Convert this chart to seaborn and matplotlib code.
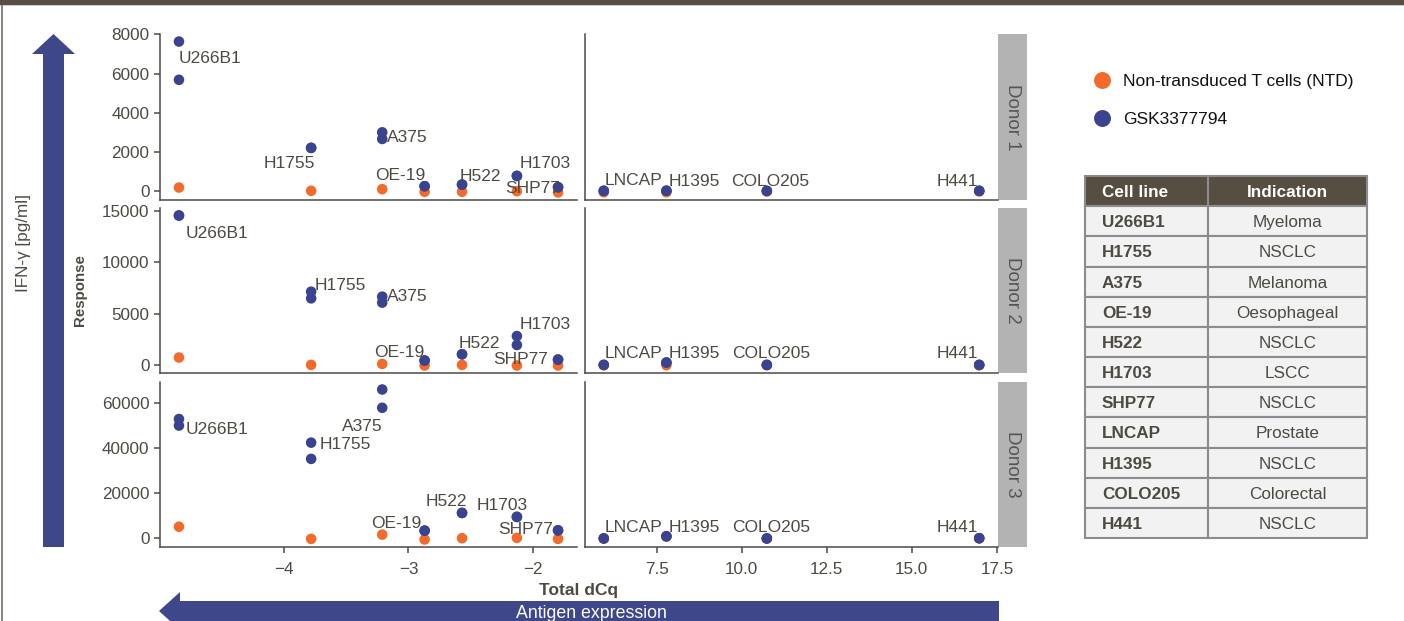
import numpy as np
import pandas as pd
import matplotlib
matplotlib.use("Agg")
import matplotlib.pyplot as plt
import seaborn as sns
from matplotlib.patches import Polygon, Rectangle
from matplotlib.ticker import FixedLocator, FuncFormatter

# ---------------- data ----------------
cell_lines = ["U266B1", "H1755", "A375", "OE-19", "H522", "H1703", "SHP77",
              "LNCAP", "H1395", "COLO205", "H441"]
indications = ["Myeloma", "NSCLC", "Melanoma", "Oesophageal", "NSCLC", "LSCC",
               "NSCLC", "Prostate", "NSCLC", "Colorectal", "NSCLC"]
total_dcq = [-4.84, -3.78, -3.21, -2.87, -2.57, -2.13, -1.80, 5.95, 7.79, 10.74, 16.98]
donors = ["Donor 1", "Donor 2", "Donor 3"]

ntd_donor1 = [200, 35, 116, -15, -15, 15, -50, -40, -40, 0, 0]
gsk_donor1_rep1 = [7626, 2218, 3009, 267, 353, 791, 217, 35, 40, 30, 35]
gsk_donor1_rep2 = [5680, 2218, 2671, 267, 353, 791, 217, 35, 40, 30, 35]

ntd_donor2 = [745, 30, 126, -30, 30, -30, -30, 0, 0, 0, 0]
gsk_donor2_rep1 = [14574, 7157, 6673, 455, 1064, 2836, 548, 30, 260, 30, 30]
gsk_donor2_rep2 = [14574, 6509, 6093, 455, 1064, 1967, 548, 30, 260, 30, 30]

ntd_donor3 = [5110, -300, 1600, -580, 0, 150, -300, -150, 700, -150, -50]
gsk_donor3_rep1 = [53000, 42500, 66130, 3370, 11230, 9480, 3500, -100, 870, -100, 0]
gsk_donor3_rep2 = [50100, 35270, 58000, 3370, 11230, 9480, 3500, -100, 870, -100, 0]

ntd_label = "Non-transduced T cells (NTD)"
gsk_label = "GSK3377794"

y_ticks = [[0, 2000, 4000, 6000, 8000], [0, 5000, 10000, 15000], [0, 20000, 40000, 60000]]
x_ticks = [[-4, -3, -2], [7.5, 10.0, 12.5, 15.0, 17.5]]

# label offsets (pixels, x right / y up) relative to the highest GSK point
label_offsets = {
    "Donor 1": {"U266B1": (31.5, -15.3), "H1755": (-22, -14), "A375": (25.5, -3.7),
                "OE-19": (-24.5, 12.7), "H522": (18.5, 10), "H1703": (28, 14.3),
                "SHP77": (-25.5, 0.7), "LNCAP": (29.5, 11.3), "H1395": (28, 11),
                "COLO205": (3.5, 11), "H441": (-22, 11)},
    "Donor 2": {"U266B1": (38, -16.7), "H1755": (29, 8), "A375": (25.5, 2),
                "OE-19": (-25, 9.3), "H522": (17, 12), "H1703": (28.5, 12.7),
                "SHP77": (-37, 1.3), "LNCAP": (30, 12.7), "H1395": (28, 10.3),
                "COLO205": (4, 12.7), "H441": (-22, 12.7)},
    "Donor 3": {"U266B1": (38, -9.3), "H1755": (34, 0), "A375": (-20, -35.3),
                "OE-19": (-28.5, 8.3), "H522": (-16, 13.3), "H1703": (-15, 13.3),
                "SHP77": (-32, 2), "LNCAP": (30, 12.3), "H1395": (28, 10),
                "COLO205": (4, 12.3), "H441": (-22, 12.3)},
}

# ---------------- style ----------------
BLUE = "#3A4390"
ORANGE = "#F26B2C"
ARROW = "#3F478B"
DARK = "#4D4A42"
plt.rcParams["font.family"] = ["Liberation Sans", "DejaVu Sans"]

records = []
series = [(ntd_donor1, gsk_donor1_rep1, gsk_donor1_rep2),
          (ntd_donor2, gsk_donor2_rep1, gsk_donor2_rep2),
          (ntd_donor3, gsk_donor3_rep1, gsk_donor3_rep2)]
for d, (ntd, r1, r2) in zip(donors, series):
    for i, c in enumerate(cell_lines):
        records.append(dict(donor=d, cell=c, dcq=total_dcq[i], group=ntd_label, value=ntd[i]))
    for rep in (r1, r2):
        for i, c in enumerate(cell_lines):
            records.append(dict(donor=d, cell=c, dcq=total_dcq[i], group=gsk_label, value=rep[i]))
df = pd.DataFrame(records)
df["side"] = np.where(df["dcq"] < 0, 0, 1)

W, H = 1404, 621
fig = plt.figure(figsize=(W / 100, H / 100), dpi=100)


def box(x0, y0, x1, y1):
    return [x0 / W, 1 - y1 / H, (x1 - x0) / W, (y1 - y0) / H]


# overlay for decorations (pixel coordinates, y downward)
ov = fig.add_axes([0, 0, 1, 1])
ov.set_xlim(0, W)
ov.set_ylim(H, 0)
ov.axis("off")
ov.add_patch(Rectangle((0, 0), W, 5, color="#574F43", lw=0))
ov.add_patch(Rectangle((0, 5), W, 1.2, color="#CFCBC0", lw=0))
ov.add_patch(Rectangle((0.5, 5), 2, H, color="#8A8780", lw=0))
# vertical arrow
ov.add_patch(Polygon([(43, 547), (43, 54), (32, 54), (53.5, 34), (75, 54), (64, 54), (64, 547)],
                     closed=True, color=ARROW, lw=0))
# horizontal arrow
ov.add_patch(Polygon([(159, 611), (180, 592), (180, 601), (999, 601), (999, 626), (180, 626),
                      (180, 630)], closed=True, color=ARROW, lw=0))
ov.text(591, 611, "Antigen expression", color="white", fontsize=12.8, ha="center",
        va="center_baseline")
ov.text(24, 243, "IFN-γ [pg/ml]", color=DARK, fontsize=12.3, rotation=90, ha="center",
        va="center")
ov.text(80, 290, "Response", color=DARK, fontsize=10.8, fontweight="bold", rotation=90,
        ha="center", va="center")
ov.text(579, 590, "Total dCq", color=DARK, fontsize=12.5, fontweight="bold", ha="center",
        va="center")

# table
tx0, tx1, tx2 = 1085, 1208, 1367
ty0, row_h = 176, 30.17
ov.add_patch(Rectangle((tx0, ty0), tx2 - tx0, row_h, facecolor="#564E40", edgecolor="#8C8C8C",
                       lw=1.5))
ov.add_patch(Rectangle((tx1, ty0), tx2 - tx1, row_h, facecolor="#564E40", edgecolor="#8C8C8C",
                       lw=1.5))
ov.text(tx0 + 17, ty0 + row_h / 2, "Cell line", color="white", fontsize=12.3, fontweight="bold",
        ha="left", va="center_baseline")
ov.text((tx1 + tx2) / 2, ty0 + row_h / 2, "Indication", color="white", fontsize=12.3,
        fontweight="bold", ha="center", va="center_baseline")
for k, (c, ind) in enumerate(zip(cell_lines, indications)):
    y = ty0 + (k + 1) * row_h
    ov.add_patch(Rectangle((tx0, y), tx1 - tx0, row_h, facecolor="#F2F2F2", edgecolor="#8C8C8C",
                           lw=1.5))
    ov.add_patch(Rectangle((tx1, y), tx2 - tx1, row_h, facecolor="#F2F2F2", edgecolor="#8C8C8C",
                           lw=1.5))
    ov.text(tx0 + 17, y + row_h / 2, c, color=DARK, fontsize=12.3, fontweight="bold", ha="left",
            va="center_baseline")
    ov.text((tx1 + tx2) / 2, y + row_h / 2, ind, color=DARK, fontsize=12.3, ha="center",
            va="center_baseline")

col_px = [(160, 577), (585, 998)]
row_px = [(34, 200), (208, 373), (382, 547)]
strip_px = (998, 1027)


def expand(lo, hi, f=0.05):
    r = hi - lo
    return lo - f * r, hi + f * r


legend_handles = None
for r, d in enumerate(donors):
    drow = df[df["donor"] == d]
    ylim = expand(drow["value"].min(), drow["value"].max())
    for c in range(2):
        dside = df[df["side"] == c]
        xlim = expand(dside["dcq"].min(), dside["dcq"].max())
        ax = fig.add_axes(box(col_px[c][0], row_px[r][0], col_px[c][1], row_px[r][1]))
        ax.patch.set_alpha(0)
        sub = drow[drow["side"] == c]
        sns.scatterplot(data=sub, x="dcq", y="value", hue="group",
                        hue_order=[ntd_label, gsk_label],
                        palette={ntd_label: ORANGE, gsk_label: BLUE},
                        s=58, linewidth=0, alpha=1, ax=ax, legend=(r == 0 and c == 0))
        if r == 0 and c == 0:
            leg = ax.get_legend()
            legend_handles = (leg.legend_handles, [t.get_text() for t in leg.get_texts()])
            leg.remove()
        ax.set_xlim(*xlim)
        ax.set_ylim(*ylim)
        ax.set_xlabel("")
        ax.set_ylabel("")
        for s in ("top", "right"):
            ax.spines[s].set_visible(False)
        for s in ("left", "bottom"):
            ax.spines[s].set_color(DARK)
            ax.spines[s].set_linewidth(1.1)
        ax.yaxis.set_major_locator(FixedLocator(y_ticks[r]))
        ax.yaxis.set_major_formatter(FuncFormatter(lambda v, p: f"{v:.0f}"))
        ax.xaxis.set_major_locator(FixedLocator(x_ticks[c]))
        if c == 1:
            ax.xaxis.set_major_formatter(FuncFormatter(lambda v, p: f"{v:.1f}"))
        ax.tick_params(axis="both", colors=DARK, labelcolor=DARK, labelsize=12.3, length=4.5,
                       width=1.1, pad=3)
        ax.tick_params(axis="x", pad=6)
        if c == 1:
            ax.tick_params(axis="y", left=False, labelleft=False)
        if r < 2:
            ax.tick_params(axis="x", bottom=False, labelbottom=False)
        # labels
        for cell in sub["cell"].unique():
            pts = sub[(sub["cell"] == cell) & (sub["group"] == gsk_label)]
            ax_x = pts["dcq"].iloc[0]
            ax_y = pts["value"].max()
            dx, dy = label_offsets[d][cell]
            ax.annotate(cell, (ax_x, ax_y), xytext=(dx, dy), textcoords="offset pixels",
                        ha="center", va="center_baseline", fontsize=12.5, color=DARK)
    # strip
    ov.add_patch(Rectangle((strip_px[0], row_px[r][0]), strip_px[1] - strip_px[0],
                           row_px[r][1] - row_px[r][0], color="#B3B3B3", lw=0))
    ov.text((strip_px[0] + strip_px[1]) / 2, (row_px[r][0] + row_px[r][1]) / 2, d,
            rotation=270, color="#555555", fontsize=13.5, ha="center", va="center")

fig.legend(legend_handles[0], legend_handles[1], loc="upper left",
           bbox_to_anchor=(1093 / W, 1 - 74 / H), frameon=False, fontsize=12.5,
           markerscale=1.6, handlelength=1.0, handletextpad=0.75, labelspacing=1.3,
           borderpad=0, borderaxespad=0, labelcolor="#111111")

fig.savefig("out.png", dpi=100)
